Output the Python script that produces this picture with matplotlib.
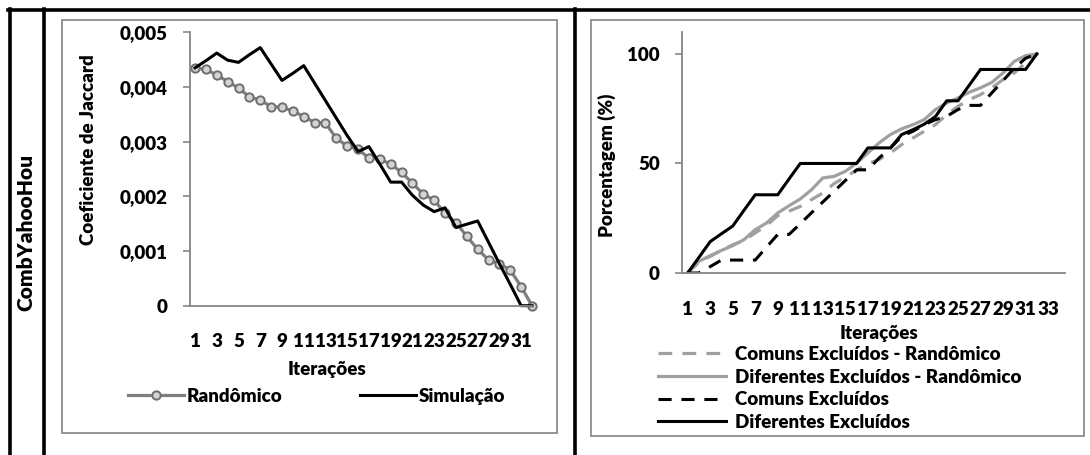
import numpy as np
import matplotlib.pyplot as plt
from matplotlib.lines import Line2D
from matplotlib.patches import Rectangle

plt.rcParams['font.family'] = ['Lato', 'DejaVu Sans']
plt.rcParams['font.weight'] = 'heavy'
plt.rcParams['font.size'] = 13.5

# dados - grafico da esquerda (Jaccard)
iter_esq = np.arange(1, 33)
randomico = [0.00435, 0.00432, 0.00422, 0.00410, 0.00398, 0.00382, 0.00376, 0.00364,
             0.00363, 0.00356, 0.00346, 0.00335, 0.00334, 0.00306, 0.00292, 0.00286,
             0.00270, 0.00268, 0.00259, 0.00244, 0.00224, 0.00204, 0.00193, 0.00169,
             0.00152, 0.00127, 0.00103, 0.00084, 0.00077, 0.00065, 0.00035, 0.0]
simulacao = [0.00435, 0.00448, 0.00462, 0.00449, 0.00445, 0.00459, 0.00472, 0.00442,
             0.00412, 0.00425, 0.00439, 0.00407, 0.00375, 0.00343, 0.00311, 0.00282,
             0.00291, 0.00259, 0.00226, 0.00226, 0.00202, 0.00184, 0.00172, 0.00179,
             0.00143, 0.00149, 0.00155, 0.00116, 0.00077, 0.00039, 0.0, 0.0]
yticks_esq = [0, 0.001, 0.002, 0.003, 0.004, 0.005]
ylabels_esq = ['0', '0,001', '0,002', '0,003', '0,004', '0,005']

# dados - grafico da direita (porcentagem)
iter_dir = np.arange(1, 33)
comuns_rand = [0, 4.9, 7.6, 10.3, 12.9, 14.8, 18.3, 21.6, 26.2, 28.2, 30.4, 33.5, 36.5,
               40.8, 43.8, 46.9, 49.9, 51.8, 54.8, 58.6, 61.6, 64.7, 67.7, 72.3, 76.1,
               79.1, 81.4, 84.5, 88.3, 91.3, 95.9, 100]
dif_rand = [0, 5.3, 7.9, 10.3, 12.5, 15.2, 19.8, 22.8, 27.4, 30.7, 33.8, 38.0, 43.4,
            44.1, 46.4, 50.2, 54.8, 59.4, 63.2, 65.8, 67.7, 70.0, 74.6, 77.6, 79.9,
            82.5, 84.5, 87.0, 91.3, 96.6, 99.2, 100]
comuns = [0, 0, 2.9, 5.9, 5.9, 5.9, 5.9, 11.8, 17.6, 17.6, 22.5, 27.5, 32.4, 37.3,
          42.2, 47.1, 47.1, 52.5, 57.0, 62.4, 64.7, 67.7, 70.0, 71.5, 74.6, 76.5,
          76.5, 82.2, 87.8, 93.5, 98.0, 100]
diferentes = [0, 7.1, 14.3, 17.9, 21.4, 28.6, 35.7, 35.7, 35.7, 42.9, 50, 50, 50, 50,
              50, 50, 57.1, 57.1, 57.1, 63.2, 65.4, 67.9, 71.4, 78.6, 78.6, 85.7,
              92.9, 92.9, 92.9, 92.9, 92.9, 100]
yticks_dir = [0, 50, 100]

W, H = 1090, 455
fig = plt.figure(figsize=(W / 100, H / 100), dpi=100)


def box(x0, y0, x1, y1):
    return [x0 / W, 1 - y1 / H, (x1 - x0) / W, (y1 - y0) / H]


def linha(xs, ys, **kw):
    fig.add_artist(Line2D([x / W for x in xs], [1 - y / H for y in ys],
                          transform=fig.transFigure, **kw))


def caixa(x0, y0, x1, y1):
    fig.add_artist(Rectangle((x0 / W, 1 - y1 / H), (x1 - x0) / W, (y1 - y0) / H,
                             transform=fig.transFigure, fill=False,
                             ec='#8c8c8c', lw=1.3))


# moldura da tabela
linha([8, W], [10, 10], color='k', lw=2.6)
linha([10, 10], [9, H], color='k', lw=2.6)
linha([43.5, 43.5], [9, H], color='k', lw=2.6)
linha([575, 575], [9, H], color='k', lw=2.6)
caixa(62, 20, 557, 433)
caixa(591, 20, 1084, 436)
fig.text(26 / W, 1 - 232 / H, 'CombYahooHou', rotation=90, ha='center', va='center',
         fontsize=15)

cinza = '#868686'


def estilo(ax):
    for s in ['top', 'right']:
        ax.spines[s].set_visible(False)
    for s in ['left', 'bottom']:
        ax.spines[s].set_color(cinza)
        ax.spines[s].set_linewidth(1.3)
    ax.tick_params(axis='x', length=0, pad=20)
    ax.tick_params(axis='y', length=5, color=cinza, width=1.2, pad=11)


# grafico esquerdo
ax1 = fig.add_axes(box(189.6, 32.3, 532, 305.7))
estilo(ax1)
ax1.plot(iter_esq, randomico, color='#7f7f7f', lw=2.3, marker='o', ms=6,
         mfc='#d4d4d4', mec='#6e6e6e', mew=1.4, label='Randômico', clip_on=False)
ax1.plot(iter_esq, simulacao, color='k', lw=2.2, label='Simulação', clip_on=False)
ax1.set_xlim(0.5, 32)
ax1.set_ylim(0, 0.005)
ax1.set_yticks(yticks_esq, ylabels_esq)
ax1.set_xticks(iter_esq[::2], [str(i) for i in iter_esq[::2]])
fig.text(327 / W, 1 - 370 / H, 'Iterações', ha='center', va='center')
fig.text(88 / W, 1 - 150 / H, 'Coeficiente de Jaccard', rotation=90,
         ha='center', va='center')
ax1.legend(loc='upper left', bbox_to_anchor=(128 / W, 1 - 388 / H),
           bbox_transform=fig.transFigure, ncol=2, frameon=False,
           borderpad=0, borderaxespad=0,
           handlelength=3.0, handletextpad=0.15, columnspacing=4.1)

# grafico direito
ax2 = fig.add_axes(box(682, 32, 1065, 273))
estilo(ax2)
ax2.plot(iter_dir, comuns_rand, color='#a0a0a0', lw=2.3, ls=(0, (4.3, 3.2)),
         label='Comuns Excluídos - Randômico')
ax2.plot(iter_dir, dif_rand, color='#a0a0a0', lw=2.3,
         label='Diferentes Excluídos - Randômico')
ax2.plot(iter_dir, comuns, color='k', lw=2.2, ls=(0, (4.3, 3.2)),
         label='Comuns Excluídos')
ax2.plot(iter_dir, diferentes, color='k', lw=2.2, label='Diferentes Excluídos')
ax2.set_xlim(0.5, 34.5)
ax2.set_ylim(0, 110)
ax2.set_yticks(yticks_dir, [str(v) for v in yticks_dir])
rot = np.arange(1, 34, 2)
ax2.set_xticks(rot, [str(i) for i in rot])
fig.text(879 / W, 1 - 333 / H, 'Iterações', ha='center', va='center')
fig.text(607 / W, 1 - 165 / H, 'Porcentagem (%)', rotation=90,
         ha='center', va='center')
ax2.legend(loc='upper left', bbox_to_anchor=(658 / W, 1 - 346 / H),
           bbox_transform=fig.transFigure, ncol=1, frameon=False,
           borderpad=0, borderaxespad=0,
           handlelength=3.6, handletextpad=0.5, labelspacing=0.3)

fig.savefig('out.png', dpi=100)
